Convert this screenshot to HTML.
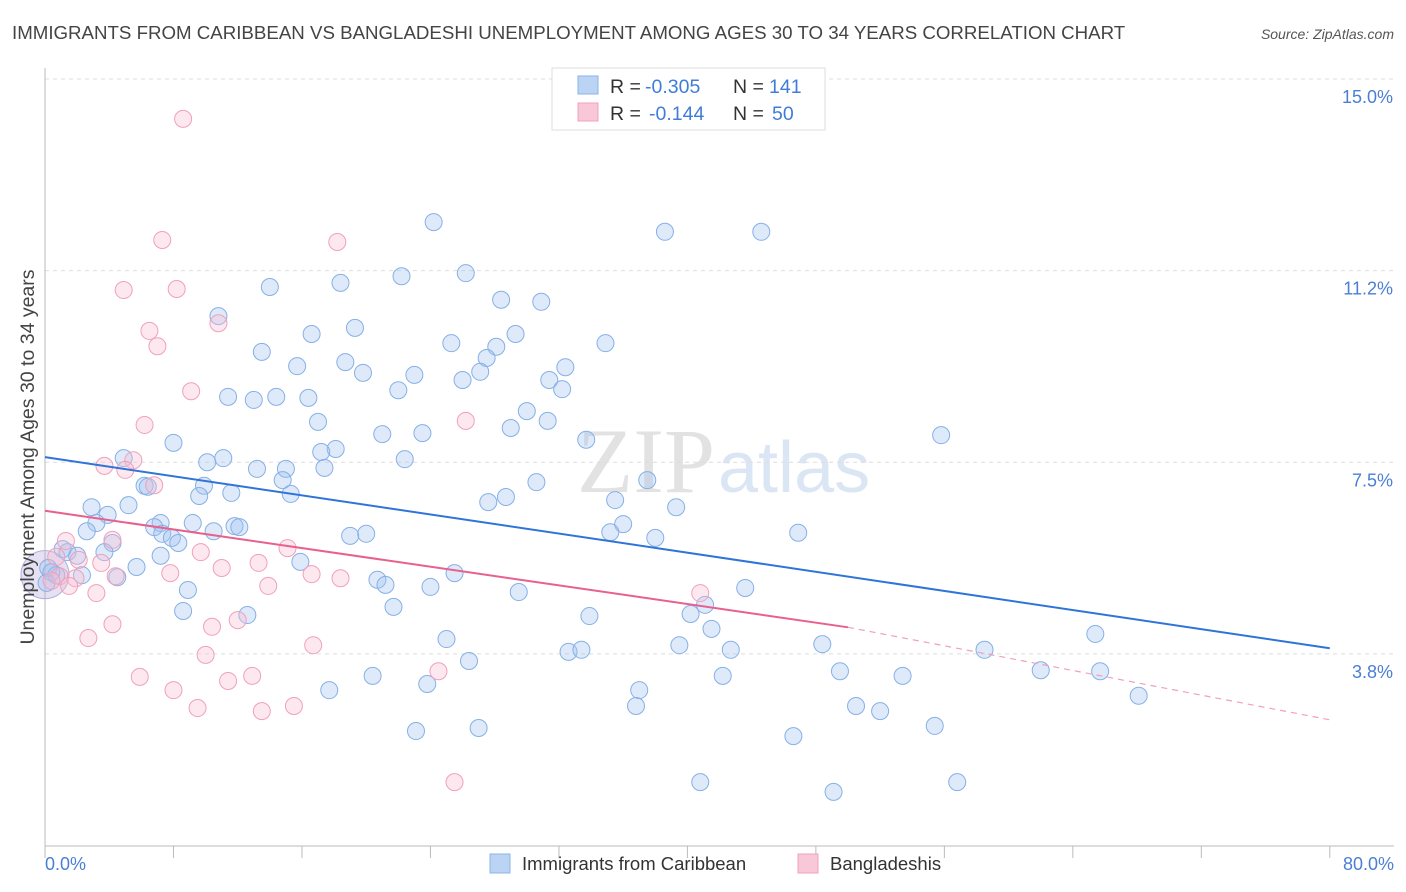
<!DOCTYPE html>
<html><head><meta charset="utf-8"><style>
body{margin:0;background:#fff;font-family:"Liberation Sans",sans-serif}
svg{display:block}
</style></head><body>
<svg width="1406" height="892" id="chart">
<text x="12" y="39" font-size="18.7" fill="#444">IMMIGRANTS FROM CARIBBEAN VS BANGLADESHI UNEMPLOYMENT AMONG AGES 30 TO 34 YEARS CORRELATION CHART</text>
<text x="1394" y="39" font-size="14" fill="#555" font-style="italic" text-anchor="end">Source: ZipAtlas.com</text>
<text x="715" y="492" font-size="92" fill="#e2e2e2" text-anchor="end" font-family="Liberation Serif, serif">ZIP</text>
<text x="718" y="492" font-size="72" fill="#dbe6f5">atlas</text>
<g id="grid"></g>
<g id="axes"></g>
<g id="marks"></g>
<text x="34" y="457" font-size="19.5" fill="#444" text-anchor="middle" transform="rotate(-90 34 457)">Unemployment Among Ages 30 to 34 years</text>
<text x="45" y="870" font-size="18" fill="#4a7fd4">0.0%</text>
<text x="1394" y="870" font-size="18" fill="#4a7fd4" text-anchor="end">80.0%</text>
<g>
<rect x="552" y="68" width="273" height="62" fill="#fff" stroke="#ddd"/>
<rect x="578" y="76" width="20" height="18" fill="#bcd4f4" stroke="#8ab4e8"/>
<rect x="578" y="103" width="20" height="18" fill="#f9c8d8" stroke="#f0a0bc"/>
<text x="610" y="93" font-size="19.5" fill="#333">R =</text>
<text x="645" y="93" font-size="19.5" fill="#3f7dd8">-0.305</text>
<text x="733" y="93" font-size="19.5" fill="#333">N =</text>
<text x="769" y="93" font-size="19.5" fill="#3f7dd8">141</text>
<text x="610" y="120" font-size="19.5" fill="#333">R =</text>
<text x="649" y="120" font-size="19.5" fill="#3f7dd8">-0.144</text>
<text x="733" y="120" font-size="19.5" fill="#333">N =</text>
<text x="772" y="120" font-size="19.5" fill="#3f7dd8">50</text>
</g>
<g>
<rect x="490" y="854" width="20" height="19" fill="#bcd4f4" stroke="#8ab4e8"/>
<text x="522" y="870" font-size="18.5" fill="#333">Immigrants from Caribbean</text>
<rect x="798" y="854" width="20" height="19" fill="#f9c8d8" stroke="#f0a0bc"/>
<text x="830" y="870" font-size="18.5" fill="#333">Bangladeshis</text>
</g>
</svg>
<script>
const yTicks=[15.0,11.25,7.5,3.75];
const yTickLabels=["15.0%","11.2%","7.5%","3.8%"];
const xTicks=[0,8,16,24,32,40,48,56,64,72,80];
const blueX=[24.2,38.6,44.6,26.2,22.2,18.4,14.0,28.4,30.9,10.8,19.3,16.6,29.3,34.9,25.3,28.1,13.5,27.5,18.7,15.7,32.4,27.1,19.8,23.0,26.0,31.4,32.2,22.0,11.4,13.0,14.4,16.4,30.0,17.0,31.3,29.0,21.0,23.5,55.8,33.7,8.0,18.1,17.2,22.4,4.9,11.1,10.1,13.2,15.0,17.4,6.2,14.8,30.6,37.5,6.4,9.9,11.6,15.3,9.6,28.7,27.6,35.5,39.3,2.9,5.2,3.9,3.2,7.2,9.2,6.8,11.8,12.1,10.5,36.0,35.2,46.9,2.6,7.3,7.9,8.3,20.0,19.0,4.2,38.0,1.1,1.4,2.0,3.7,7.2,15.9,5.7,0.2,0.7,2.3,4.5,25.5,20.7,21.2,24.0,43.6,8.9,29.5,41.1,21.7,8.6,12.6,33.9,40.2,41.5,65.4,25.0,48.4,39.5,32.6,33.4,42.7,58.5,26.4,62.0,65.7,20.4,42.2,49.5,53.4,23.8,17.7,37.0,68.1,36.8,50.5,52.0,55.4,23.1,27.0,46.6,40.8,56.8,49.1,0.4,0.1];
const blueY=[12.20,12.01,12.01,11.20,11.14,11.01,10.93,10.68,10.64,10.36,10.13,10.01,10.01,9.83,9.83,9.76,9.66,9.54,9.46,9.38,9.36,9.27,9.25,9.21,9.11,9.11,8.93,8.91,8.78,8.72,8.78,8.76,8.50,8.29,8.31,8.17,8.05,8.07,8.03,7.94,7.88,7.76,7.70,7.56,7.58,7.58,7.50,7.37,7.37,7.39,7.04,7.15,7.11,7.15,7.02,7.04,6.90,6.88,6.84,6.82,6.72,6.76,6.62,6.62,6.66,6.47,6.31,6.31,6.31,6.23,6.25,6.23,6.15,6.29,6.13,6.12,6.15,6.10,6.02,5.92,6.10,6.06,5.92,6.02,5.80,5.74,5.67,5.74,5.67,5.55,5.45,5.43,5.29,5.29,5.25,5.33,5.20,5.10,5.06,5.04,5.00,4.96,4.71,4.67,4.59,4.51,4.49,4.53,4.24,4.14,4.04,3.94,3.92,3.79,3.83,3.83,3.83,3.61,3.43,3.41,3.32,3.32,3.41,3.32,3.16,3.04,3.04,2.93,2.73,2.73,2.63,2.34,2.24,2.30,2.14,1.24,1.24,1.05,5.35,5.14];
const pinkX=[8.6,7.3,18.2,4.9,8.2,6.5,7.0,10.8,9.1,6.2,26.2,5.5,3.7,5.0,6.8,1.3,4.2,15.1,9.7,0.7,2.1,3.5,13.3,11.0,7.8,16.6,18.4,0.9,1.9,0.4,1.5,13.9,3.2,40.8,4.2,12.0,10.4,2.7,16.7,10.0,24.5,5.9,12.9,11.4,8.0,15.5,9.5,13.5,25.5,4.4];
const pinkY=[14.22,11.85,11.81,10.87,10.89,10.07,9.77,10.22,8.89,8.23,8.31,7.54,7.43,7.35,7.05,5.96,5.98,5.82,5.74,5.65,5.59,5.53,5.53,5.43,5.33,5.31,5.23,5.27,5.23,5.18,5.08,5.08,4.94,4.94,4.33,4.41,4.28,4.06,3.92,3.73,3.41,3.30,3.32,3.22,3.04,2.73,2.69,2.63,1.24,5.27];
const blueTrend=[[0,7.60],[80,3.86]];
const pinkTrend=[[0,6.55],[50,4.27],[80,2.46]];
const NS="http://www.w3.org/2000/svg";
const sx=v=>45+v*16.06;
const sy=v=>79+(15-v)*51.1;
function mk(tag,attrs,parent){const e=document.createElementNS(NS,tag);for(const k in attrs)e.setAttribute(k,attrs[k]);parent.appendChild(e);return e;}
const grid=document.getElementById('grid'),axes=document.getElementById('axes'),marks=document.getElementById('marks');
yTicks.forEach((t,i)=>{
 const l=mk('line',{x1:45,x2:1394,y1:sy(t),y2:sy(t),stroke:'#ddd','stroke-dasharray':'4,4'},grid);
 
 
 const tx=mk('text',{x:1393,y:sy(t)+24,'font-size':18,fill:'#4a7fd4','text-anchor':'end'},grid);
 tx.textContent=yTickLabels[i];
 
 
});
const xa=mk('line',{x1:45,x2:1394,y1:846,y2:846,stroke:'#bbb'},axes);


const ya=mk('line',{x1:45,x2:45,y1:68,y2:846,stroke:'#bbb'},axes);


xTicks.forEach(t=>{
 const l=mk('line',{x1:sx(t),x2:sx(t),y1:846,y2:858,stroke:'#bbb'},axes);
 
 
});
const big=mk('circle',{cx:sx(0),cy:sy(5.3),r:24,fill:'rgba(180,170,220,0.35)',stroke:'#b0b0e0'},marks);


blueX.forEach((x,i)=>{
 const c=mk('circle',{cx:sx(x),cy:sy(blueY[i]),r:8.5,fill:'rgba(160,196,240,0.35)',stroke:'#86b0e6','stroke-width':1},marks);
 
 
});
pinkX.forEach((x,i)=>{
 const c=mk('circle',{cx:sx(x),cy:sy(pinkY[i]),r:8.5,fill:'rgba(248,190,210,0.35)',stroke:'#f0a0bc','stroke-width':1},marks);
 
 
});
const bt=mk('line',{x1:sx(blueTrend[0][0]),y1:sy(blueTrend[0][1]),x2:sx(blueTrend[1][0]),y2:sy(blueTrend[1][1]),stroke:'#2f74d8','stroke-width':2},marks);


const pt=mk('line',{x1:sx(pinkTrend[0][0]),y1:sy(pinkTrend[0][1]),x2:sx(pinkTrend[1][0]),y2:sy(pinkTrend[1][1]),stroke:'#e8608e','stroke-width':2},marks);


const pd=mk('line',{x1:sx(pinkTrend[1][0]),y1:sy(pinkTrend[1][1]),x2:sx(pinkTrend[2][0]),y2:sy(pinkTrend[2][1]),stroke:'#f0a0bc','stroke-width':1.2,'stroke-dasharray':'6,5'},marks);


</script>
</body></html>
